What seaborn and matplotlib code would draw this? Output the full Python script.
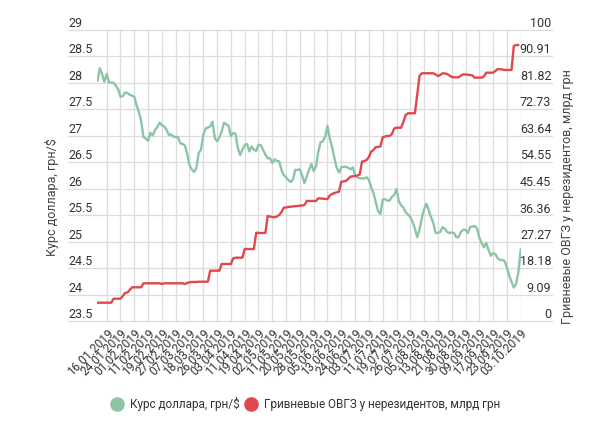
import numpy as np
import pandas as pd
import matplotlib.pyplot as plt
import seaborn as sns
from matplotlib.lines import Line2D

sns.set_theme(style='white')
plt.rcParams['font.family'] = ['Roboto', 'DejaVu Sans']

GREEN = '#8cc5a5'
RED = '#e0484e'
GRID = '#dcdcdc'
TEXT = '#333333'

# daily values (Ukrainian business days, 10.01.2019 - 03.10.2019)
usd_rate = [
    28.04, 28.28, 28.17, 28.02, 28.17, 28.01, 28.01, 28.00, 27.95, 27.88,
    27.74, 27.75, 27.82, 27.81, 27.78, 27.76, 27.74, 27.58, 27.45, 27.28,
    26.98, 26.95, 26.91, 27.06, 27.01, 27.11, 27.17, 27.25, 27.20, 27.18,
    27.12, 27.02, 27.03, 26.99, 26.98, 26.98, 26.86, 26.85, 26.82, 26.66,
    26.45, 26.37, 26.32, 26.40, 26.68, 26.74, 27.02, 27.14, 27.16, 27.18,
    27.27, 26.96, 26.90, 26.97, 27.09, 27.25, 27.22, 27.19, 27.00, 27.06,
    27.04, 26.78, 26.64, 26.74, 26.83, 26.85, 26.71, 26.80, 26.74, 26.72,
    26.83, 26.83, 26.74, 26.65, 26.58, 26.58, 26.49, 26.56, 26.53, 26.52,
    26.36, 26.26, 26.22, 26.17, 26.13, 26.18, 26.36, 26.36, 26.37, 26.25,
    26.11, 26.24, 26.36, 26.47, 26.34, 26.42, 26.70, 26.88, 26.90, 26.99,
    27.19, 26.95, 26.79, 26.58, 26.40, 26.31, 26.41, 26.42, 26.42, 26.40,
    26.37, 26.41, 26.26, 26.22, 26.20, 26.20, 26.20, 26.22, 26.17, 26.03,
    25.92, 25.75, 25.58, 25.53, 25.80, 25.81, 25.78, 25.78, 25.85, 25.89,
    26.00, 25.77, 25.69, 25.65, 25.56, 25.52, 25.47, 25.38, 25.25, 25.09,
    25.23, 25.45, 25.62, 25.72, 25.60, 25.47, 25.36, 25.17, 25.17, 25.19,
    25.28, 25.25, 25.19, 25.17, 25.18, 25.17, 25.09, 25.09, 25.19, 25.23,
    25.23, 25.17, 25.28, 25.29, 25.30, 25.26, 25.08, 24.98, 24.90, 24.98,
    24.85, 24.74, 24.79, 24.77, 24.69, 24.66, 24.66, 24.64, 24.52, 24.36,
    24.25, 24.14, 24.21, 24.43, 24.86,
]

ovgz_nonres = [
    6.45, 6.45, 6.45, 6.45, 6.45, 6.45, 6.45, 7.82, 7.82, 7.82,
    7.82, 8.75, 9.78, 9.95, 10.81, 11.73, 11.73, 11.73, 11.73, 11.73,
    13.10, 13.10, 13.10, 13.10, 13.10, 13.10, 13.10, 13.10, 12.86, 13.10,
    13.10, 13.10, 13.10, 13.10, 13.10, 13.10, 13.10, 13.10, 12.86, 13.21,
    13.45, 13.55, 13.55, 13.55, 13.65, 13.65, 13.65, 13.65, 13.65, 17.43,
    17.43, 17.43, 17.43, 17.43, 19.73, 19.73, 19.73, 19.73, 19.73, 21.68,
    21.89, 21.89, 21.89, 21.89, 24.87, 24.87, 24.87, 24.87, 24.87, 30.46,
    30.36, 30.36, 30.36, 30.36, 36.19, 36.02, 35.85, 35.75, 36.02, 36.54,
    37.56, 39.04, 39.11, 39.28, 39.38, 39.45, 39.55, 39.62, 39.73, 39.79,
    39.97, 41.34, 41.34, 41.34, 41.34, 41.34, 42.26, 42.20, 42.13, 42.02,
    42.02, 43.22, 43.74, 44.08, 44.32, 44.53, 47.96, 48.03, 48.20, 48.89,
    49.67, 49.81, 49.91, 50.09, 50.43, 54.82, 55.06, 55.40, 56.43, 58.32,
    58.83, 59.86, 59.86, 60.03, 63.19, 63.46, 63.64, 63.64, 64.32, 66.21,
    66.48, 66.48, 66.48, 68.44, 70.84, 71.42, 71.42, 71.42, 71.42, 77.70,
    84.22, 85.15, 85.15, 85.15, 85.15, 85.15, 85.15, 84.73, 84.22, 84.56,
    85.15, 85.08, 84.91, 84.39, 83.88, 83.77, 83.77, 83.77, 84.39, 84.80,
    84.73, 84.67, 84.56, 84.39, 83.64, 83.64, 83.64, 83.64, 84.05, 85.35,
    85.35, 85.35, 85.35, 85.93, 86.62, 86.55, 86.45, 86.28, 86.28, 86.28,
    86.28, 94.51, 94.85, 94.85, np.nan,
]

date_labels = [
    '16.01.2019', '24.01.2019', '01.02.2019', '11.02.2019', '19.02.2019',
    '27.02.2019', '07.03.2019', '18.03.2019', '26.03.2019', '03.04.2019',
    '11.04.2019', '19.04.2019', '02.05.2019', '11.05.2019', '20.05.2019',
    '28.05.2019', '05.06.2019', '13.06.2019', '24.06.2019', '03.07.2019',
    '11.07.2019', '19.07.2019', '26.07.2019', '05.08.2019', '13.08.2019',
    '21.08.2019', '30.08.2019', '09.09.2019', '17.09.2019', '23.09.2019',
    '03.10.2019',
]

left_ticks = [23.5, 24, 24.5, 25, 25.5, 26, 26.5, 27, 27.5, 28, 28.5, 29]
left_labels = ['23.5', '24', '24.5', '25', '25.5', '26', '26.5', '27',
               '27.5', '28', '28.5', '29']
right_labels = ['0', '9.09', '18.18', '27.27', '36.36', '45.45', '54.55',
                '63.64', '72.73', '81.82', '90.91', '100']
right_ticks = [float(s) for s in right_labels]

df = pd.DataFrame({'day': np.arange(len(usd_rate)),
                   'usd': usd_rate,
                   'ovgz': ovgz_nonres})
label_pos = df['day'].values[4::6]

fig = plt.figure(figsize=(6.04, 4.32), dpi=100)
ax = fig.add_axes([0.1614, 0.2558, 0.7007, 0.6748])
ax2 = ax.twinx()

sns.lineplot(data=df, x='day', y='usd', ax=ax, color=GREEN, lw=1.7)
sns.lineplot(data=df, x='day', y='ovgz', ax=ax2, color=RED, lw=1.7)

ax.set_xlim(0, len(usd_rate) - 1)
ax.set_ylim(23.5, 29)
ax2.set_ylim(0, 100)

# vertical grid at every labelled date
ax.set_xticks(label_pos)
ax.set_xticklabels(date_labels, rotation=45, ha='right', rotation_mode='anchor')
ax.tick_params(axis='x', length=0, pad=4, labelsize=8.6, labelcolor=TEXT)
ax.grid(axis='x', color=GRID, lw=0.9)
ax.set_axisbelow(True)

# horizontal grid runs under the tick labels on both sides
for v in left_ticks:
    ax.axhline(v, xmin=-0.07, xmax=1.074, color=GRID, lw=0.9, clip_on=False, zorder=0)

ax.set_yticks(left_ticks)
ax.set_yticklabels(left_labels)
ax.tick_params(axis='y', length=0, pad=21, labelsize=9, labelcolor=TEXT)
for t in ax.get_yticklabels():
    t.set_ha('left')
    t.set_va('bottom')

ax2.set_yticks(right_ticks)
ax2.set_yticklabels(right_labels)
ax2.tick_params(axis='y', length=0, pad=22, labelsize=9, labelcolor=TEXT)
for t in ax2.get_yticklabels():
    t.set_ha('right')
    t.set_va('bottom')
ax2.grid(False)

for a in (ax, ax2):
    a.set_xlabel('')
    a.set_ylabel('')
    for s in a.spines.values():
        s.set_visible(False)

fig.text(52 / 604, 1 - 197 / 432, 'Курс доллара, грн/$', rotation=90,
         ha='center', va='center', fontsize=9, color='#444444')
fig.text(568 / 604, 1 - 197 / 432, 'Гривневые ОВГЗ у нерезидентов, млрд грн',
         rotation=90, ha='center', va='center', fontsize=9, color='#444444')

handles = [
    Line2D([], [], marker='o', ls='', color=GREEN, markersize=9.5),
    Line2D([], [], marker='o', ls='', color=RED, markersize=9.5),
]
fig.legend(handles, ['Курс доллара, грн/$', 'Гривневые ОВГЗ у нерезидентов, млрд грн'],
           loc='center', bbox_to_anchor=(305 / 604, 1 - 404 / 432), ncol=2,
           frameon=False, fontsize=8.5, handletextpad=0.5, columnspacing=0.4,
           handlelength=1.2, labelcolor=TEXT)

fig.savefig('out.png', dpi=100)
